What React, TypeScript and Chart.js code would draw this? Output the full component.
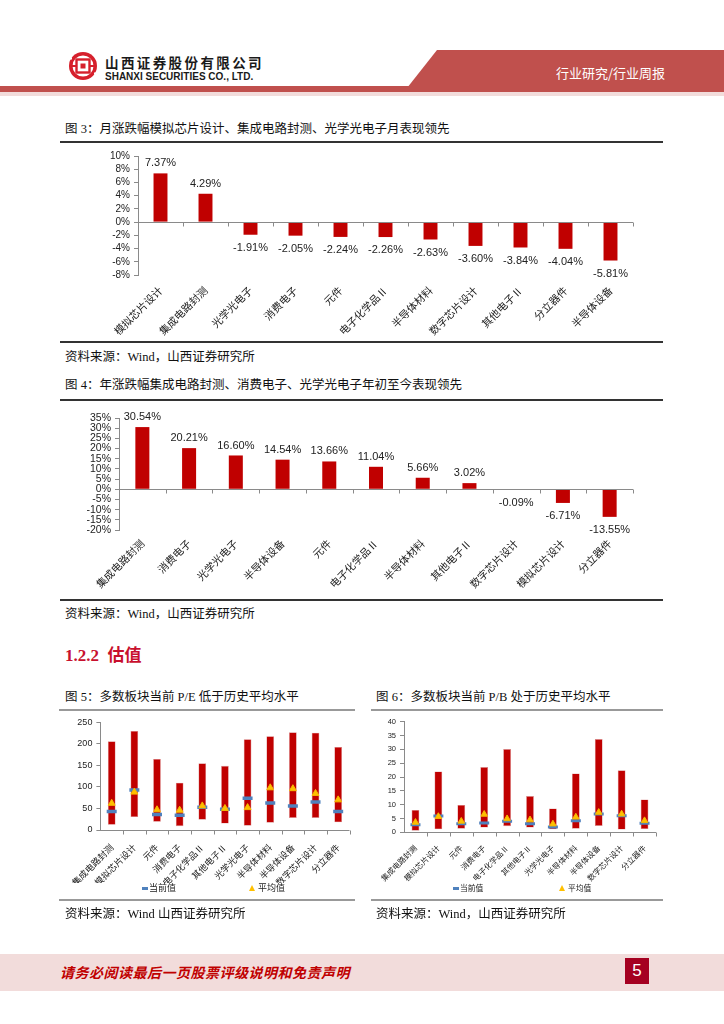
import React, { useEffect, useRef } from "react";
import { Chart, registerables } from "chart.js";

Chart.register(...registerables);

// ---------- Data ----------
const monthCats = ["模拟芯片设计", "集成电路封测", "光学光电子", "消费电子", "元件", "电子化学品Ⅱ", "半导体材料", "数字芯片设计", "其他电子Ⅱ", "分立器件", "半导体设备"];
const monthVals = [7.37, 4.29, -1.91, -2.05, -2.24, -2.26, -2.63, -3.6, -3.84, -4.04, -5.81];
const monthAxis = { min: -8, max: 10, step: 2 };

const ytdCats = ["集成电路封测", "消费电子", "光学光电子", "半导体设备", "元件", "电子化学品Ⅱ", "半导体材料", "其他电子Ⅱ", "数字芯片设计", "模拟芯片设计", "分立器件"];
const ytdVals = [30.54, 20.21, 16.6, 14.54, 13.66, 11.04, 5.66, 3.02, -0.09, -6.71, -13.55];
const ytdAxis = { min: -20, max: 35, step: 5 };

const valCats = ["集成电路封测", "模拟芯片设计", "元件", "消费电子", "电子化学品Ⅱ", "其他电子Ⅱ", "光学光电子", "半导体材料", "半导体设备", "数字芯片设计", "分立器件"];
const peMin = [12, 30, 19, 9, 24, 15, 10, 17, 28, 28, 18];
const peMax = [206, 230, 165, 110, 155, 149, 211, 218, 227, 226, 193];
const peCur = [43, 93, 36, 34, 53, 48, 74, 63, 56, 65, 43];
const peAvg = [62, 88, 47, 46, 56, 50, 52, 98, 96, 85, 70];
const peAxis = { min: 0, max: 250, step: 50 };

const pbMin = [0.6, 1.1, 1.3, 1.7, 2.2, 1.7, 1.1, 1.3, 2.3, 1.0, 1.2];
const pbMax = [8.1, 22, 9.9, 23.6, 30.1, 13.1, 8.6, 21.3, 33.7, 22.4, 11.9];
const pbCur = [2.7, 5.9, 3.1, 3.4, 4.0, 3.1, 1.9, 4.2, 6.6, 6.0, 3.3];
const pbAvg = [3.6, 5.7, 4.0, 6.5, 4.9, 4.5, 3.0, 5.5, 7.2, 6.6, 4.2];
const pbAxis = { min: 0, max: 40, step: 5 };

const legendNames = ["当前值", "平均值"];

// ---------- Styles ----------
const FONT_SANS = "'Liberation Sans', 'Noto Sans CJK SC', sans-serif";
const FONT_SERIF = "'Liberation Serif', 'Noto Sans CJK SC', serif";
const FONT_CJK = "'Noto Sans CJK SC', sans-serif";
const BAR_RED = "#c00000";
const AXIS_GRAY = "#8a8a8a";

// ---------- Plugins ----------
const zeroAxisPlugin = {
  id: "zeroAxis",
  afterDatasetsDraw(chart: any, _args: any, opts: any) {
    const xs = chart.scales.x;
    const ys = chart.scales.y;
    const ctx = chart.ctx;
    const y0 = Math.round(ys.getPixelForValue(0)) + 0.5;
    const n = chart.data.labels.length;
    ctx.save();
    ctx.strokeStyle = opts.color || AXIS_GRAY;
    ctx.lineWidth = 1;
    ctx.beginPath();
    ctx.moveTo(xs.left, y0);
    ctx.lineTo(xs.right, y0);
    for (let i = 1; i <= n; i++) {
      const px = Math.round(xs.left + ((xs.right - xs.left) * i) / n) + 0.5;
      ctx.moveTo(px, y0);
      ctx.lineTo(px, y0 + (opts.tick || 4));
    }
    ctx.stroke();
    ctx.restore();
  },
};

const valueLabelPlugin = {
  id: "valueLabels",
  afterDatasetsDraw(chart: any, _args: any, opts: any) {
    if (!opts || !opts.display) return;
    const meta = chart.getDatasetMeta(0);
    const vals = chart.data.datasets[0].data;
    const ctx = chart.ctx;
    ctx.save();
    ctx.font = `${opts.size}px ${FONT_SANS}`;
    ctx.fillStyle = "#222";
    ctx.textAlign = "center";
    ctx.textBaseline = "middle";
    meta.data.forEach((el: any, i: number) => {
      const v = vals[i];
      const yy = v >= 0 ? Math.min(el.y, el.base) - opts.above : Math.max(el.y, el.base) + opts.below;
      ctx.fillText(v.toFixed(2) + "%", el.x, yy);
    });
    ctx.restore();
  },
};

// ---------- Config builders ----------
function barConfig(cats: string[], vals: number[], ax: any, g: any) {
  return {
    type: "bar",
    data: {
      labels: cats,
      datasets: [{ data: vals, backgroundColor: BAR_RED, categoryPercentage: 1, barPercentage: g.barPct }],
    },
    options: {
      animation: false,
      responsive: false,
      layout: { padding: { left: 0, right: g.padRight, top: g.padTop, bottom: 0 } },
      plugins: {
        legend: { display: false },
        tooltip: { enabled: false },
        valueLabels: { display: true, size: g.labelSize, above: g.above, below: g.below },
        zeroAxis: { color: AXIS_GRAY, tick: 4 },
      },
      scales: {
        x: {
          grid: { display: false, drawTicks: false },
          border: { display: false },
          ticks: {
            autoSkip: false,
            minRotation: 45,
            maxRotation: 45,
            padding: g.xPad,
            color: "#222",
            font: { size: g.xFont, family: FONT_CJK },
          },
          afterFit: (s: any) => {
            s.height = g.xHeight;
          },
        },
        y: {
          min: ax.min,
          max: ax.max,
          ticks: {
            stepSize: ax.step,
            autoSkip: false,
            padding: 4,
            color: "#222",
            font: { size: g.yFont, family: FONT_SANS },
            callback: (v: any) => v + "%",
          },
          grid: { drawOnChartArea: false, drawTicks: true, tickLength: 4, color: AXIS_GRAY },
          border: { display: true, color: AXIS_GRAY },
          afterFit: (s: any) => {
            s.width = g.yWidth;
          },
        },
      },
    },
    plugins: [zeroAxisPlugin, valueLabelPlugin],
  };
}

function rangeConfig(cats: string[], mins: number[], maxs: number[], cur: number[], avg: number[], ax: any, g: any) {
  return {
    type: "bar",
    data: {
      labels: cats,
      datasets: [
        {
          type: "line",
          label: legendNames[1],
          data: avg,
          showLine: false,
          pointStyle: "triangle",
          pointRadius: g.triR,
          backgroundColor: "#ffc000",
          borderColor: "#f5b800",
          borderWidth: 1,
        },
        {
          type: "line",
          label: legendNames[0],
          data: cur,
          showLine: false,
          pointStyle: "line",
          pointRadius: g.dashR,
          borderColor: "#4f81bd",
          borderWidth: g.dashW,
        },
        {
          type: "bar",
          label: "range",
          data: mins.map((m, i) => [m, maxs[i]]),
          backgroundColor: BAR_RED,
          borderColor: "#d98a8a",
          borderWidth: 0.6,
          borderSkipped: false,
          categoryPercentage: 1,
          barPercentage: g.barPct,
        },
      ],
    },
    options: {
      animation: false,
      responsive: false,
      layout: { padding: { left: 0, right: g.padRight, top: g.padTop, bottom: 0 } },
      plugins: {
        legend: { display: false },
        tooltip: { enabled: false },
        zeroAxis: { color: AXIS_GRAY, tick: 4 },
      },
      scales: {
        x: {
          grid: { display: false, drawTicks: false },
          border: { display: false },
          ticks: {
            autoSkip: false,
            minRotation: 45,
            maxRotation: 45,
            padding: g.xPad,
            color: "#222",
            font: { size: g.xFont, family: FONT_CJK },
          },
          afterFit: (s: any) => {
            s.height = g.xHeight;
          },
        },
        y: {
          min: ax.min,
          max: ax.max,
          ticks: {
            stepSize: ax.step,
            autoSkip: false,
            padding: 4,
            color: "#222",
            font: { size: g.yFont, family: FONT_SANS },
          },
          grid: { drawOnChartArea: false, drawTicks: true, tickLength: 4, color: AXIS_GRAY },
          border: { display: true, color: AXIS_GRAY },
          afterFit: (s: any) => {
            s.width = g.yWidth;
          },
        },
      },
    },
    plugins: [zeroAxisPlugin],
  };
}

// ---------- Components ----------
function ChartCanvas({ left, top, width, height, build }: any) {
  const ref = useRef<HTMLCanvasElement>(null);
  useEffect(() => {
    const chart = new Chart(ref.current as HTMLCanvasElement, build() as any);
    return () => chart.destroy();
  }, []);
  return (
    <canvas
      ref={ref}
      width={width}
      height={height}
      style={{ position: "absolute", left, top, width, height }}
    />
  );
}

function T({ x, y, size, children, style }: any) {
  return (
    <div
      style={{
        position: "absolute",
        left: x,
        top: y - size * 0.6,
        fontSize: size,
        lineHeight: 1.2,
        whiteSpace: "nowrap",
        fontFamily: FONT_SERIF,
        color: "#111",
        ...style,
      }}
    >
      {children}
    </div>
  );
}

function HLine({ x1, x2, y, h, color }: any) {
  return <div style={{ position: "absolute", left: x1, top: y, width: x2 - x1, height: h, background: color }} />;
}

function Legend({ dashX, triX, y, size }: any) {
  return (
    <>
      <div style={{ position: "absolute", left: dashX, top: y - 1.5, width: 6, height: 3, background: "#4f81bd" }} />
      <T x={dashX + 7} y={y} size={size} style={{ fontFamily: FONT_CJK, color: "#222" }}>
        {legendNames[0]}
      </T>
      <div
        style={{
          position: "absolute",
          left: triX,
          top: y - 3.5,
          width: 0,
          height: 0,
          borderLeft: "3.5px solid transparent",
          borderRight: "3.5px solid transparent",
          borderBottom: "6px solid #ffc000",
        }}
      />
      <T x={triX + 9} y={y} size={size} style={{ fontFamily: FONT_CJK, color: "#222" }}>
        {legendNames[1]}
      </T>
    </>
  );
}

function Logo() {
  return (
    <svg width={32} height={32} style={{ position: "absolute", left: 67, top: 50 }} viewBox="0 0 32 32">
      <circle cx={16} cy={16} r={14} fill="#d6202c" />
      <circle cx={16} cy={16} r={10.5} fill="#fff" />
      <rect x={0} y={7.5} width={5} height={2} fill="#fff" />
      <rect x={27} y={22.5} width={5} height={2} fill="#fff" />
      <rect x={9.5} y={9.5} width={13} height={13} fill="none" stroke="#d6202c" strokeWidth={2.4} />
      <rect x={13.5} y={13.5} width={5} height={5} fill="#d6202c" />
      <rect x={5} y={15} width={4} height={2} fill="#d6202c" />
      <rect x={23} y={15} width={4} height={2} fill="#d6202c" />
    </svg>
  );
}

export default function App() {
  return (
    <div
      style={{
        position: "absolute",
        left: 0,
        top: 0,
        width: 724,
        height: 1024,
        background: "#fff",
        overflow: "hidden",
      }}
    >
      {/* Header */}
      <svg width={724} height={100} style={{ position: "absolute", left: 0, top: 0 }}>
        <polygon points="437,50 724,50 724,88 407,88" fill="#c0504d" />
        <rect x={0} y={86} width={724} height={6} fill="#c0504d" />
        <rect x={0} y={92} width={724} height={4} fill="#f2dcdb" />
      </svg>
      <Logo />
      <T x={105} y={62} size={13.5} style={{ fontFamily: FONT_CJK, fontWeight: 700, letterSpacing: 2.4, color: "#1a1a1a" }}>
        山西证券股份有限公司
      </T>
      <T x={105} y={77} size={10} style={{ fontFamily: FONT_SANS, fontWeight: 700, color: "#1a1a1a" }}>
        SHANXI SECURITIES CO., LTD.
      </T>
      <T x={556} y={73} size={13} style={{ fontFamily: FONT_CJK, color: "#fff" }}>
        行业研究/行业周报
      </T>

      {/* Figure 3 */}
      <T x={65} y={129} size={12.5}>图 3：月涨跌幅模拟芯片设计、集成电路封测、光学光电子月表现领先</T>
      <HLine x1={60} x2={663} y={141} h={1.5} color="#333" />
      <ChartCanvas
        left={60}
        top={146}
        width={604}
        height={194}
        build={() =>
          barConfig(monthCats, monthVals, monthAxis, {
            barPct: 0.31,
            padRight: 31,
            padTop: 8,
            yWidth: 78,
            xHeight: 65,
            xPad: 9,
            xFont: 10.5,
            yFont: 10,
            labelSize: 11,
            above: 10,
            below: 13,
          })
        }
      />
      <HLine x1={60} x2={663} y={341} h={1.5} color="#333" />
      <T x={65} y={357} size={12.5}>资料来源：Wind，山西证券研究所</T>

      {/* Figure 4 */}
      <T x={65} y={385} size={12.5}>图 4：年涨跌幅集成电路封测、消费电子、光学光电子年初至今表现领先</T>
      <HLine x1={60} x2={663} y={399} h={1.5} color="#333" />
      <ChartCanvas
        left={60}
        top={402}
        width={604}
        height={196}
        build={() =>
          barConfig(ytdCats, ytdVals, ytdAxis, {
            barPct: 0.3,
            padRight: 31,
            padTop: 16,
            yWidth: 59,
            xHeight: 68,
            xPad: 7,
            xFont: 10.5,
            yFont: 10.5,
            labelSize: 11,
            above: 10,
            below: 13,
          })
        }
      />
      <HLine x1={60} x2={663} y={599} h={1.5} color="#333" />
      <T x={65} y={614} size={12.5}>资料来源：Wind，山西证券研究所</T>

      {/* Section header */}
      <T x={65} y={656} size={17} style={{ color: "#c8102e", fontWeight: 700 }}>
        1.2.2&nbsp; 估值
      </T>

      {/* Figure 5 & 6 titles */}
      <T x={65} y={697} size={12.5}>图 5：多数板块当前 P/E 低于历史平均水平</T>
      <T x={376} y={697} size={12.5}>图 6：多数板块当前 P/B 处于历史平均水平</T>
      <HLine x1={59} x2={355} y={709} h={2} color="#999" />
      <HLine x1={371} x2={663} y={709} h={2} color="#999" />

      <ChartCanvas
        left={60}
        top={713}
        width={298}
        height={170}
        build={() =>
          rangeConfig(valCats, peMin, peMax, peCur, peAvg, peAxis, {
            barPct: 0.34,
            padRight: 5,
            padTop: 8,
            yWidth: 33.5,
            xHeight: 53,
            xPad: 12,
            xFont: 9,
            yFont: 9,
            triR: 4,
            dashR: 5,
            dashW: 3.5,
          })
        }
      />
      <Legend dashX={142} triX={249} y={888} size={9} />

      <ChartCanvas
        left={370}
        top={713}
        width={294}
        height={170}
        build={() =>
          rangeConfig(valCats, pbMin, pbMax, pbCur, pbAvg, pbAxis, {
            barPct: 0.34,
            padRight: 3,
            padTop: 8.7,
            yWidth: 30.5,
            xHeight: 50.7,
            xPad: 11,
            xFont: 7.8,
            yFont: 7.5,
            triR: 3.8,
            dashR: 5,
            dashW: 3,
          })
        }
      />
      <Legend dashX={453} triX={559} y={888} size={7.8} />

      <HLine x1={59} x2={355} y={899} h={2} color="#999" />
      <HLine x1={371} x2={663} y={899} h={2} color="#999" />
      <T x={65} y={914} size={12.5}>资料来源：Wind 山西证券研究所</T>
      <T x={376} y={914} size={12.5}>资料来源：Wind，山西证券研究所</T>

      {/* Footer */}
      <div style={{ position: "absolute", left: 0, top: 954, width: 724, height: 37, background: "#f2dcdb" }} />
      <T x={60} y={972} size={14} style={{ fontFamily: FONT_CJK, fontWeight: 700, color: "#c00000", fontStyle: "italic", letterSpacing: 0.5 }}>
        请务必阅读最后一页股票评级说明和免责声明
      </T>
      <div
        style={{
          position: "absolute",
          left: 625,
          top: 958,
          width: 24,
          height: 26,
          background: "#a50021",
          color: "#fff",
          fontFamily: FONT_SANS,
          fontSize: 17,
          lineHeight: "26px",
          textAlign: "center",
        }}
      >
        5
      </div>
    </div>
  );
}
